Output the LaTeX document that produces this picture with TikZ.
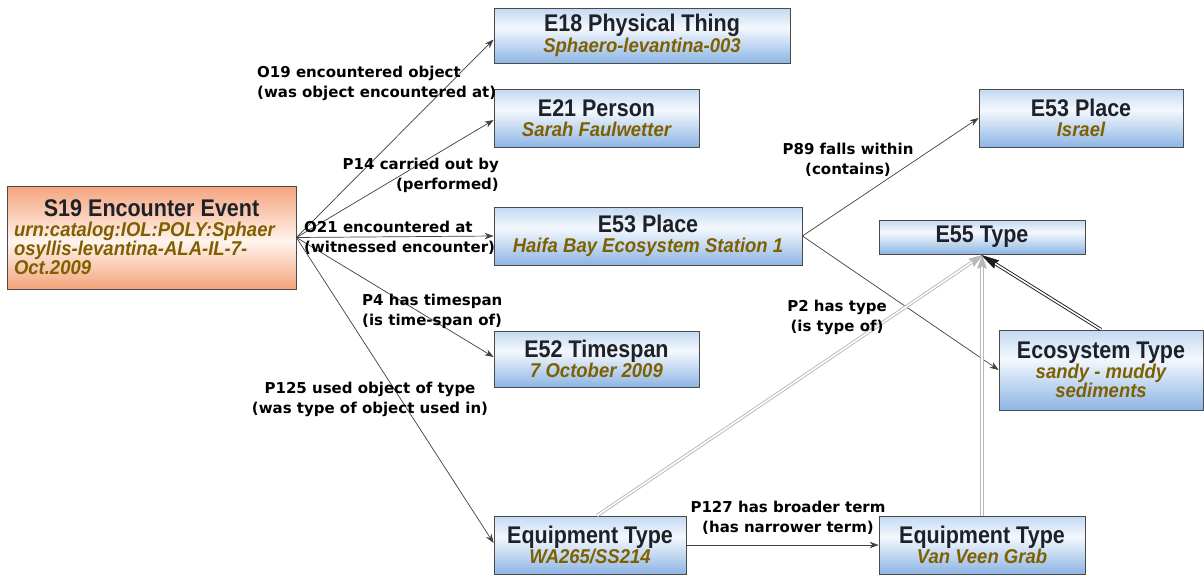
\documentclass[tikz,border=0pt]{standalone}
\usepackage{fontspec}
\usepackage{graphicx}
\setmainfont{Liberation Sans}
\newfontfamily\entfont{Liberation Sans}
\newfontfamily\lblfont{DejaVu Sans}
\usetikzlibrary{arrows.meta,calc}
\definecolor{boxline}{HTML}{4A4A4A}
\definecolor{titlecol}{HTML}{1E2228}
\definecolor{subcol}{HTML}{7F6000}
\definecolor{linecol}{HTML}{404040}
\definecolor{dblgray}{HTML}{B8B8B8}
\definecolor{dblblack}{HTML}{1A1A1A}
\definecolor{bluetop}{HTML}{C2D9F2}
\definecolor{bluemid}{HTML}{F4F8FD}
\definecolor{bluebot}{HTML}{8DB5E4}
\definecolor{ortop}{HTML}{F5A47E}
\definecolor{ormid}{HTML}{FFF4EE}
\definecolor{orbot}{HTML}{F4A379}
\pgfdeclareverticalshading{entblue}{100bp}{color(0bp)=(bluebot); color(25bp)=(bluebot); color(57bp)=(bluemid); color(75bp)=(bluetop); color(100bp)=(bluetop)}
\pgfdeclareverticalshading{evtorange}{100bp}{color(0bp)=(orbot); color(25bp)=(orbot); color(48bp)=(ormid); color(75bp)=(ortop); color(100bp)=(ortop)}
\newcommand\enttitle[1]{\scalebox{1}[1.12]{\entfont\fontsize{21.5}{20}\selectfont\bfseries\color{titlecol}#1}}
\newcommand\entsub[1]{\scalebox{1}[1.08]{\entfont\fontsize{18.5}{20}\selectfont\bfseries\itshape\color{subcol}#1}}
\tikzset{
  ent/.style={draw=boxline, line width=0.8pt, shading=entblue, inner sep=0pt, align=center,
    font=\entfont\fontsize{21.5}{19.5}\selectfont},
  evt/.style={draw=boxline, line width=0.8pt, shading=evtorange, inner xsep=7pt, inner ysep=0pt,
    align=left, font=\entfont\fontsize{18.5}{19}\selectfont},
  rel/.style={draw=linecol, line width=0.7pt, -{Stealth[length=9pt,width=6.5pt]}},
  grayshaft/.style={draw=dblgray, double=white, double distance=1.6pt, line width=0.9pt, shorten >=10pt},
  blackshaft/.style={draw=dblblack, double=white, double distance=1.6pt, line width=0.9pt, shorten >=13pt},
  graytip/.style={fill=dblgray, draw=dblgray, line width=0.4pt},
  blacktip/.style={fill=dblblack, draw=dblblack, line width=0.4pt},
  lbl/.style={font=\lblfont\bfseries\fontsize{15}{20}\selectfont, text=black, inner sep=0pt}
}
\begin{document}
\begin{tikzpicture}[x=1pt,y=-1pt]
\useasboundingbox[fill=white] (0,0) rectangle (1204,579);
% nodes
\node[evt, minimum height=103pt, text width=275pt] (s19) at (151.5,237.5)
  {\makebox[\linewidth][c]{\enttitle{S19 Encounter Event}}\\[1pt]
   \entsub{urn:catalog:IOL:POLY:Sphaer}\\
   \entsub{osyllis-levantina-ALA-IL-7-}\\
   \entsub{Oct.2009}};
\node[ent, minimum width=296pt, minimum height=55pt] (e18) at (642,35.5)
  {\enttitle{E18 Physical Thing}\\\entsub{Sphaero-levantina-003}};
\node[ent, minimum width=205pt, minimum height=58pt] (e21) at (596.5,118)
  {\enttitle{E21 Person}\\\entsub{Sarah Faulwetter}};
\node[ent, minimum width=308pt, minimum height=58pt] (haifa) at (648,236)
  {\enttitle{E53 Place}\\\entsub{Haifa Bay Ecosystem Station 1}};
\node[ent, minimum width=205pt, minimum height=56pt] (e52) at (596.5,359)
  {\enttitle{E52 Timespan}\\\entsub{7 October 2009}};
\node[ent, minimum width=192pt, minimum height=58pt] (eqwa) at (590,545)
  {\enttitle{Equipment Type}\\\entsub{WA265/SS214}};
\node[ent, minimum width=206pt, minimum height=58pt] (eqvv) at (982,545)
  {\enttitle{Equipment Type}\\\entsub{Van Veen Grab}};
\node[ent, minimum width=204pt, minimum height=58pt] (israel) at (1081,118)
  {\enttitle{E53 Place}\\\entsub{Israel}};
\node[ent, minimum width=206pt, minimum height=34pt] (e55) at (982,237)
  {\enttitle{E55 Type}};
\node[ent, minimum width=204pt, minimum height=80pt] (eco) at (1101,370)
  {\enttitle{Ecosystem Type}\\\entsub{sandy - muddy}\\\entsub{sediments}};
% connectors
\draw[rel] (s19.east) -- ([yshift=-4pt]e18.west);
\draw[rel] (s19.east) -- ([yshift=-2pt]e21.west);
\draw[rel] (s19.east) -- (haifa.west);
\draw[rel] (s19.east) -- ([yshift=2pt]e52.west);
\draw[rel] (s19.east) -- ([yshift=2pt]eqwa.west);
\draw[rel] (haifa.east) -- (israel.west);
\draw[rel] (haifa.east) -- (eco.west);
\draw[rel] (eqwa.east) -- (eqvv.west);
% double connectors to E55 Type
\coordinate (tip) at ([yshift=-1pt]e55.south);
\coordinate (wastart) at ([xshift=7pt]eqwa.north);
\coordinate (vvstart) at (eqvv.north);
\coordinate (ecostart) at (eco.north);
\draw[grayshaft] (wastart) -- (tip);
\draw[grayshaft] (vvstart) -- (tip);
\draw[blackshaft] (ecostart) -- (tip);
\coordinate (wab) at ($(tip)!13pt!(wastart)$);
\coordinate (vvb) at ($(tip)!13pt!(vvstart)$);
\coordinate (ecb) at ($(tip)!17pt!(ecostart)$);
\fill[graytip] (tip) -- ($(wab)!4.5pt!90:(tip)$) -- ($(wab)!2pt!(tip)$) -- ($(wab)!4.5pt!-90:(tip)$) -- cycle;
\fill[graytip] (tip) -- ($(vvb)!4.5pt!90:(tip)$) -- ($(vvb)!2pt!(tip)$) -- ($(vvb)!4.5pt!-90:(tip)$) -- cycle;
\fill[blacktip] (tip) -- ($(ecb)!4.5pt!90:(tip)$) -- ($(ecb)!2pt!(tip)$) -- ($(ecb)!4.5pt!-90:(tip)$) -- cycle;
% labels
\node[lbl, align=left, anchor=west] (l19) at (257,83) {O19 encountered object\\(was object encountered at)};
\node[lbl, align=right, anchor=east] (l14) at (499,175) {P14 carried out by\\(performed)};
\node[lbl, align=left, anchor=west] (l21) at (304,238) {O21 encountered at\\(witnessed encounter)};
\node[lbl, align=left, anchor=west] (l4) at (362,311) {P4 has timespan\\(is time-span of)};
\node[lbl, align=center] (l125) at (370,399) {P125 used object of type\\(was type of object used in)};
\node[lbl, align=center] (l89) at (848,160) {P89 falls within\\(contains)};
\node[lbl, align=center] (l2) at (837,317) {P2 has type\\(is type of)};
\node[lbl, align=center] (l127) at (788,518) {P127 has broader term\\(has narrower term)};
\end{tikzpicture}
\end{document}
